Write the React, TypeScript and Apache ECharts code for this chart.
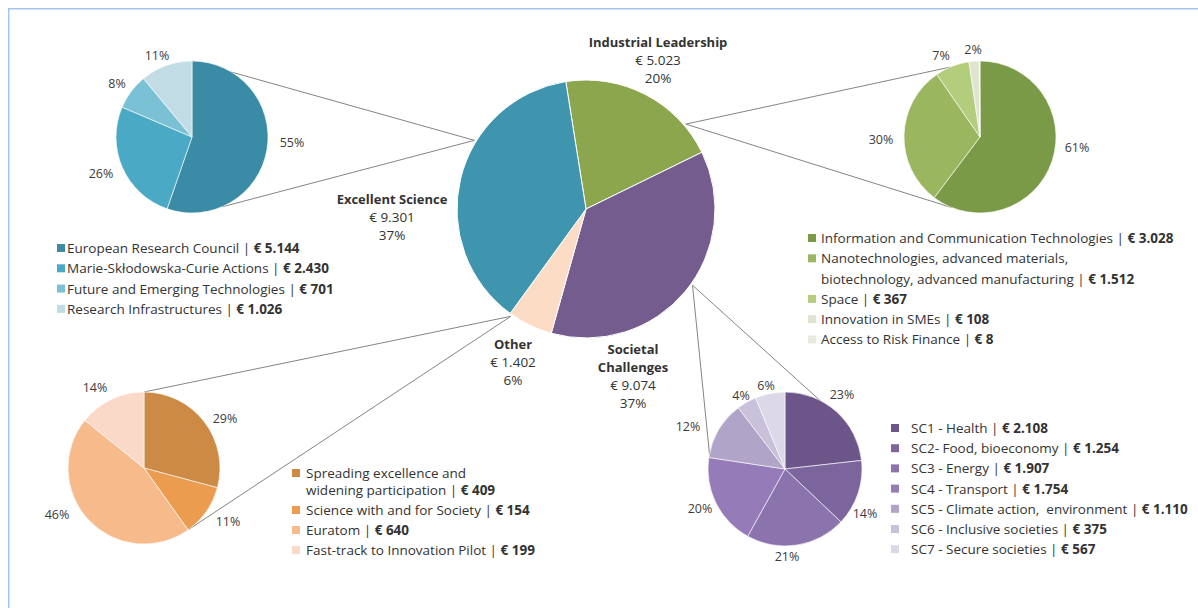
import React, { useEffect, useRef } from 'react';
import * as echarts from 'echarts';

// ---------- DATA ----------
const mainCategories = ['Industrial Leadership', 'Societal Challenges', 'Other', 'Excellent Science'];
const mainLabelNames = ['Industrial Leadership', 'Societal\nChallenges', 'Other', 'Excellent Science'];
const mainValues = [5023, 9074, 1402, 9301];
const mainPercentLabels = [20, 37, 6, 37];

const esCategories = [
  'European Research Council',
  'Marie-Skłodowska-Curie Actions',
  'Future and Emerging Technologies',
  'Research Infrastructures',
];
const esValues = [5144, 2430, 701, 1026];
const esPercentLabels = [55, 26, 8, 11];

const ilCategories = [
  'Information and Communication Technologies',
  'Nanotechnologies, advanced materials,\nbiotechnology, advanced manufacturing',
  'Space',
  'Innovation in SMEs',
  'Access to Risk Finance',
];
const ilValues = [3028, 1512, 367, 108, 8];
const ilPercentLabels: (number | null)[] = [61, 30, 7, 2, null];

const otherCategories = [
  'Spreading excellence and\nwidening participation',
  'Science with and for Society',
  'Euratom',
  'Fast-track to Innovation Pilot',
];
const otherValues = [409, 154, 640, 199];
const otherPercentLabels = [29, 11, 46, 14];

const scCategories = [
  'SC1 - Health',
  'SC2- Food, bioeconomy',
  'SC3 - Energy',
  'SC4 - Transport',
  'SC5 - Climate action,  environment',
  'SC6 - Inclusive societies',
  'SC7 - Secure societies',
];
const scValues = [2108, 1254, 1907, 1754, 1110, 375, 567];
const scPercentLabels = [23, 14, 21, 20, 12, 4, 6];

// ---------- STYLES / LAYOUT ----------
const FONT = '"Open Sans", "Noto Sans", sans-serif';
const TEXT = '#333333';
const LEGEND_SIZE = 13.5;

const mainColors = ['#8ca64d', '#755c8f', '#fcdcc4', '#3f94ae'];
const esColors = ['#3a8ca6', '#4aa9c4', '#7ac1d5', '#c2dce6'];
const ilColors = ['#7b9a48', '#9ab65f', '#b3cd7c', '#dfe4cf', '#e8eadf'];
const otherColors = ['#cc8a45', '#ec9c4f', '#f7ba8b', '#fad9c9'];
const scColors = ['#6c5588', '#7c659c', '#8b73ad', '#957cb8', '#b0a4c8', '#c9c0d9', '#ddd8e7'];

const mainCenter = [586, 209];
const mainRadius = 129;
const esCenter = [192, 137];
const ilCenter = [980, 137];
const otherCenter = [144, 468];
const scCenter = [785, 469];
const subRadius = 76;

const mainLabelPos = [[658, 60], [633, 376], [513, 362], [392, 217]];
const esLabelPos = [[292, 142], [101, 173], [117, 83], [157, 55]];
const ilLabelPos = [[1077, 147], [881, 139], [941, 55], [973, 49], [0, 0]];
const otherLabelPos = [[225, 418], [228, 521], [57, 514], [95, 387]];
const scLabelPos = [[842, 394], [865, 513], [787, 556], [700, 508], [688, 426], [741, 395], [766, 385]];

function euro(v: number) {
  return '€ ' + String(v).replace(/\B(?=(\d{3})+(?!\d))/g, '.');
}

function polar(c: number[], r: number, deg: number) {
  const a = (deg * Math.PI) / 180;
  return [c[0] + r * Math.sin(a), c[1] - r * Math.cos(a)];
}

function subPie(
  id: string,
  names: string[],
  values: number[],
  pct: (number | null)[],
  colors: string[],
  center: number[],
  radius: number,
  labelPos: number[][]
) {
  return {
    type: 'pie',
    id,
    center,
    radius,
    startAngle: 90,
    clockwise: true,
    avoidLabelOverlap: false,
    silent: true,
    itemStyle: { borderColor: '#ffffff', borderWidth: 0.6 },
    label: {
      show: true,
      position: 'outside',
      fontFamily: FONT,
      fontSize: 12.5,
      color: '#3c3c3c',
      formatter: (p: any) => (pct[p.dataIndex] == null ? '' : pct[p.dataIndex] + '%'),
    },
    labelLine: { show: false },
    labelLayout: (p: any) => ({
      x: labelPos[p.dataIndex][0],
      y: labelPos[p.dataIndex][1],
      align: 'center',
      verticalAlign: 'middle',
    }),
    data: names.map((n, i) => ({ name: n, value: values[i], itemStyle: { color: colors[i] } })),
  };
}

function legendItems(
  names: string[],
  values: number[],
  colors: string[],
  markerX: number,
  textX: number,
  y0: number,
  step: number,
  lineStep: number
) {
  const els: any[] = [];
  let y = y0;
  names.forEach((name, i) => {
    const lines = name.split('\n');
    els.push({
      type: 'rect',
      shape: { x: markerX, y: y - 4, width: 8, height: 8 },
      style: { fill: colors[i] },
      silent: true,
    });
    const txt = lines
      .map((l, j) => (j === lines.length - 1 ? `{a|${l} | }{b|${euro(values[i])}}` : `{a|${l}}`))
      .join('\n');
    els.push({
      type: 'text',
      x: textX,
      y: y - lineStep / 2,
      silent: true,
      style: {
        text: txt,
        verticalAlign: 'top',
        align: 'left',
        rich: {
          a: { fontFamily: FONT, fontSize: LEGEND_SIZE, fill: TEXT, lineHeight: lineStep },
          b: { fontFamily: FONT, fontSize: LEGEND_SIZE, fontWeight: 'bold', fill: TEXT, lineHeight: lineStep },
        },
      },
    });
    y += step + (lines.length - 1) * lineStep;
  });
  return els;
}

const connectors = [
  { fromAngle: 301.6, to: esCenter, toAngles: [0, 157] },
  { fromAngle: 49.6, to: ilCenter, toAngles: [336.8, 201.7] },
  { fromAngle: 215, to: otherCenter, toAngles: [0, 144] },
  { fromAngle: 125.6, to: scCenter, toAngles: [278.6, 30] },
];

export default function App() {
  const ref = useRef<HTMLDivElement>(null);
  useEffect(() => {
    document.body.style.margin = '0';
    const chart = echarts.init(ref.current!, null, { renderer: 'svg' });

    const lineEls: any[] = [];
    connectors.forEach((c) => {
      const p0 = polar(mainCenter, mainRadius + 2, c.fromAngle);
      c.toAngles.forEach((a) => {
        const p1 = polar(c.to, subRadius, a);
        lineEls.push({
          type: 'line',
          silent: true,
          shape: { x1: p0[0], y1: p0[1], x2: p1[0], y2: p1[1] },
          style: { stroke: '#858585', lineWidth: 1 },
        });
      });
    });

    const frame = [
      {
        type: 'line',
        silent: true,
        shape: { x1: 8, y1: 8.75, x2: 1198, y2: 8.75 },
        style: { stroke: '#a3c6ea', lineWidth: 1.5 },
      },
      {
        type: 'line',
        silent: true,
        shape: { x1: 8.75, y1: 8, x2: 8.75, y2: 608 },
        style: { stroke: '#a3c6ea', lineWidth: 1.5 },
      },
    ];

    const option: any = {
      animation: false,
      backgroundColor: '#ffffff',
      graphic: {
        elements: [
          ...frame,
          ...lineEls,
          ...legendItems(esCategories, esValues, esColors, 57, 67, 248, 20.3, 20),
          ...legendItems(ilCategories, ilValues, ilColors, 808, 821, 238, 20.3, 20.3),
          ...legendItems(otherCategories, otherValues, otherColors, 292, 306, 473, 20, 17),
          ...legendItems(scCategories, scValues, scColors, 891, 911, 428, 20.2, 20),
        ],
      },
      series: [
        {
          type: 'pie',
          id: 'main',
          center: mainCenter,
          radius: mainRadius,
          startAngle: 99,
          clockwise: true,
          avoidLabelOverlap: false,
          silent: true,
          itemStyle: { borderColor: '#ffffff', borderWidth: 1 },
          label: {
            show: true,
            position: 'outside',
            align: 'center',
            formatter: (p: any) => {
              const i = p.dataIndex;
              const nm = mainLabelNames[i]
                .split('\n')
                .map((l) => `{n|${l}}`)
                .join('\n');
              return `${nm}\n{v|${euro(mainValues[i])}}\n{v|${mainPercentLabels[i]}%}`;
            },
            rich: {
              n: { fontFamily: FONT, fontSize: 13, fontWeight: 'bold', color: TEXT, lineHeight: 18, align: 'center' },
              v: { fontFamily: FONT, fontSize: 13.5, color: TEXT, lineHeight: 18, align: 'center' },
            },
          },
          labelLine: { show: false },
          labelLayout: (p: any) => ({
            x: mainLabelPos[p.dataIndex][0],
            y: mainLabelPos[p.dataIndex][1],
            align: 'center',
            verticalAlign: 'middle',
          }),
          data: mainCategories.map((n, i) => ({ name: n, value: mainValues[i], itemStyle: { color: mainColors[i] } })),
        },
        subPie('es', esCategories, esValues, esPercentLabels, esColors, esCenter, subRadius, esLabelPos),
        subPie('il', ilCategories, ilValues, ilPercentLabels, ilColors, ilCenter, subRadius, ilLabelPos),
        subPie('other', otherCategories, otherValues, otherPercentLabels, otherColors, otherCenter, subRadius, otherLabelPos),
        subPie('sc', scCategories, scValues, scPercentLabels, scColors, scCenter, subRadius + 1, scLabelPos),
      ],
    };
    chart.setOption(option);
    return () => chart.dispose();
  }, []);
  return <div ref={ref} style={{ width: 1198, height: 608 }} />;
}
